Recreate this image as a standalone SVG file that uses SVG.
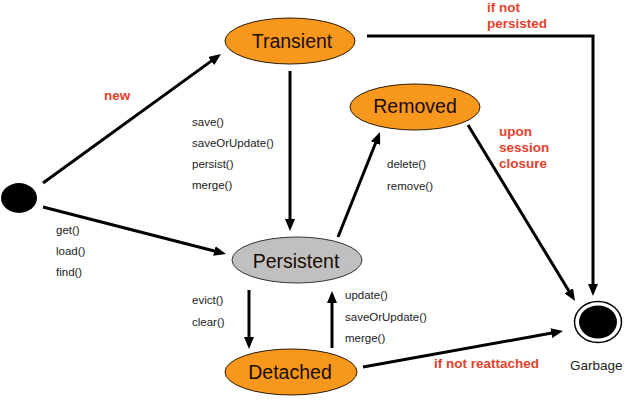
<svg xmlns="http://www.w3.org/2000/svg" width="627" height="402" viewBox="0 0 627 402">
<style>
.orange{fill:#f7981d;stroke:#2a1a00;stroke-width:1}
.gray{fill:#c0c0c0;stroke:#333;stroke-width:1}
.nlabel{font-family:"Liberation Sans",Arial,sans-serif;font-size:19.5px;fill:#1a0c00;text-anchor:middle}
.op{font-family:"Liberation Sans",Arial,sans-serif;font-size:11.5px;fill:#222}
.red{font-family:"Liberation Sans",Arial,sans-serif;font-size:13.5px;font-weight:bold;fill:#e4412c}
.edge{stroke:#000;stroke-width:3;fill:none}
</style>
<defs>
<marker id="ah" viewBox="0 0 12 10" refX="2" refY="5" markerWidth="12" markerHeight="10" markerUnits="userSpaceOnUse" orient="auto">
<path d="M0,0 L12,5 L0,10 z" fill="#000"/>
</marker>
</defs>
<rect width="627" height="402" fill="#fff"/>
<g id="connectors">
<line class="edge" x1="43" y1="183" x2="212.9" y2="59.9" marker-end="url(#ah)"/>
<line class="edge" x1="43" y1="207" x2="216.3" y2="251.5" marker-end="url(#ah)"/>
<line class="edge" x1="290" y1="71" x2="290" y2="221" marker-end="url(#ah)"/>
<polyline class="edge" points="367,36 593,36 593,286" marker-end="url(#ah)"/>
<line class="edge" x1="338" y1="237" x2="376.3" y2="141.3" marker-end="url(#ah)"/>
<line class="edge" x1="468" y1="125" x2="569.8" y2="292.5" marker-end="url(#ah)"/>
<line class="edge" x1="249" y1="290" x2="249" y2="339" marker-end="url(#ah)"/>
<line class="edge" x1="332" y1="348" x2="332" y2="301" marker-end="url(#ah)"/>
<line class="edge" x1="363" y1="367" x2="553.2" y2="332.8" marker-end="url(#ah)"/>
</g>
<g id="labels">
<text class="red" x="104" y="100">new</text>
<text class="op" x="192" y="126">save()</text>
<text class="op" x="192" y="147">saveOrUpdate()</text>
<text class="op" x="192" y="168">persist()</text>
<text class="op" x="192" y="189">merge()</text>
<text class="op" x="56" y="234">get()</text>
<text class="op" x="56" y="255">load()</text>
<text class="op" x="56" y="276">find()</text>
<text class="op" x="192" y="304">evict()</text>
<text class="op" x="192" y="326">clear()</text>
<text class="op" x="387" y="168">delete()</text>
<text class="op" x="387" y="190">remove()</text>
<text class="op" x="345" y="299">update()</text>
<text class="op" x="345" y="321">saveOrUpdate()</text>
<text class="op" x="345" y="342">merge()</text>
<text class="red" x="487" y="12">if not</text>
<text class="red" x="487" y="28">persisted</text>
<text class="red" x="499" y="136">upon</text>
<text class="red" x="499" y="152">session</text>
<text class="red" x="499" y="168">closure</text>
<text class="red" x="434" y="368">if not reattached</text>
</g>
<g id="start">
<ellipse cx="19" cy="198" rx="18" ry="15" fill="#000"/>
</g>
<g id="transient">
<ellipse class="orange" cx="290" cy="41" rx="65" ry="23"/>
<text class="nlabel" x="292" y="48">Transient</text>
</g>
<g id="removed">
<ellipse class="orange" cx="415" cy="107" rx="65" ry="23"/>
<text class="nlabel" x="415" y="113">Removed</text>
</g>
<g id="persistent">
<ellipse class="gray" cx="297" cy="260" rx="65" ry="23"/>
<text class="nlabel" x="296" y="268">Persistent</text>
</g>
<g id="detached">
<ellipse class="orange" cx="291" cy="372" rx="66" ry="23"/>
<text class="nlabel" x="290" y="379">Detached</text>
</g>
<g id="garbage">
<ellipse cx="598" cy="322" rx="23.5" ry="20.5" fill="#fff" stroke="#000" stroke-width="1.5"/>
<ellipse cx="598" cy="322" rx="19" ry="16.5" fill="#000"/>
<text class="op" x="570" y="370" style="font-size:13.5px">Garbage</text>
</g>
</svg>
